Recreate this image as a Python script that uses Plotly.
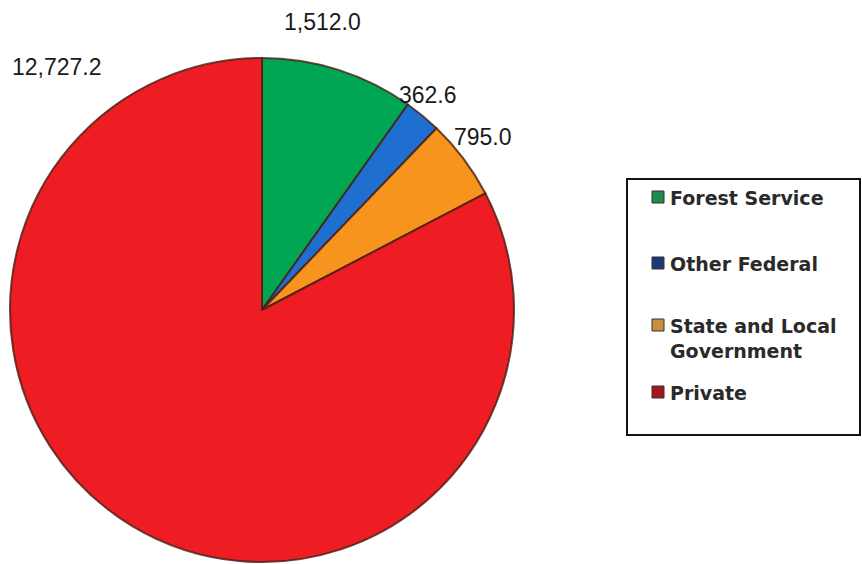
import plotly.graph_objects as go

# Ownership categories and their values
categories = ["Forest Service", "Other Federal", "State and Local Government", "Private"]
legend_labels = ["Forest Service", "Other Federal", "State and Local<br>Government", "Private"]
values = [1512.0, 362.6, 795.0, 12727.2]

slice_colors = ["#00a651", "#1f6fd1", "#f7941d", "#ee1d23"]
swatch_colors = ["#1f8b4c", "#1b3a78", "#c8903c", "#a3181c"]

W, H = 862, 564


def px(x):
    return x / W


def py(y):
    return 1 - y / H


fig = go.Figure(
    go.Pie(
        labels=categories,
        values=values,
        sort=False,
        direction="clockwise",
        rotation=0,
        textinfo="none",
        hoverinfo="label+value",
        showlegend=False,
        marker=dict(colors=slice_colors, line=dict(color="rgba(70,30,20,0.8)", width=2)),
        domain=dict(x=[px(10), px(514)], y=[py(562), py(58)]),
    )
)

# Value labels around the pie
label_pos = [(322, 22), (428, 95), (483, 137), (57, 67)]
annotations = []
for v, (lx, ly) in zip(values, label_pos):
    annotations.append(
        dict(
            x=px(lx), y=py(ly), xref="paper", yref="paper",
            text=f"{v:,.1f}", showarrow=False,
            xanchor="center", yanchor="middle",
            font=dict(family="Liberation Sans, Arial, sans-serif", size=23, color="#1a1a1a"),
        )
    )

# Legend box with swatches and labels
shapes = [
    dict(type="rect", xref="paper", yref="paper",
         x0=px(627), x1=px(860), y0=py(435), y1=py(179),
         line=dict(color="#111111", width=2), fillcolor="rgba(0,0,0,0)")
]
legend_rows = [197, 263, 325, 392]
for lab, col, ry in zip(legend_labels, swatch_colors, legend_rows):
    shapes.append(
        dict(type="rect", xref="paper", yref="paper",
             x0=px(652), x1=px(664), y0=py(ry + 6), y1=py(ry - 6),
             line=dict(color="#333333", width=1), fillcolor=col)
    )
    annotations.append(
        dict(
            x=px(668), y=py(ry - 12), xref="paper", yref="paper",
            text=f"<b>{lab}</b>", showarrow=False,
            xanchor="left", yanchor="top", align="left",
            font=dict(family="DejaVu Sans, sans-serif", size=19, color="#2a2a2a"),
        )
    )

fig.update_layout(
    width=W, height=H,
    margin=dict(l=0, r=0, t=0, b=0),
    paper_bgcolor="white",
    plot_bgcolor="white",
    shapes=shapes,
    annotations=annotations,
)

fig.write_html("out.html")
